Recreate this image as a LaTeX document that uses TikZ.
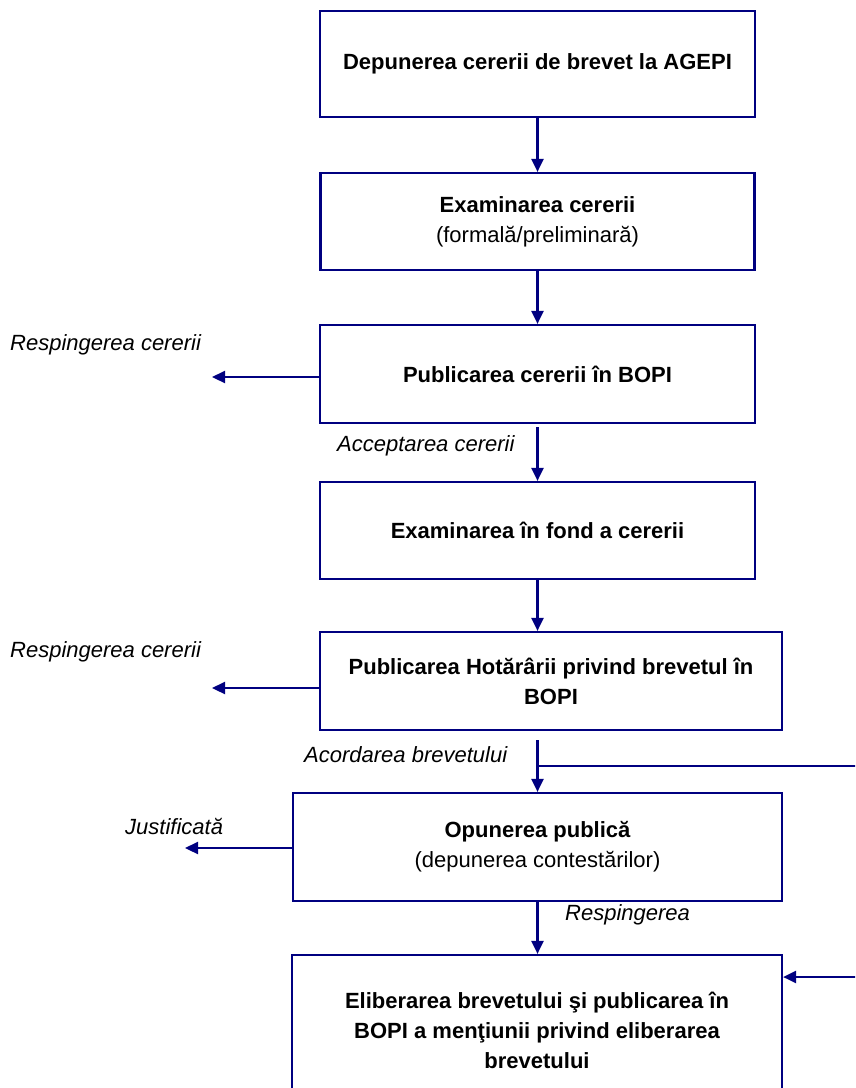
\documentclass[tikz,border=0pt]{standalone}
\usepackage{fontspec}
\setmainfont{Liberation Sans}
\usetikzlibrary{arrows.meta}
\definecolor{navy}{HTML}{000080}
\tikzset{
  box/.style={draw=navy, line width=2.2pt, fill=white, inner sep=0pt, align=center,
              font=\fontsize{22}{30}\selectfont\bfseries},
  arr/.style={draw=navy, line width=2.2pt, -{Triangle[length=13pt,width=12pt]}},
  ln/.style={draw=navy, line width=2.2pt},
  lab/.style={anchor=west, inner sep=0pt, font=\fontsize{22}{30}\selectfont\itshape},
  sub/.style={font=\fontsize{22}{30}\selectfont\mdseries}
}
\begin{document}
\begin{tikzpicture}[x=1pt,y=-1pt]
\clip (0,0) rectangle (855,1088);
\fill[white] (0,0) rectangle (855,1088);

\node[box, minimum width=435pt, minimum height=106pt] (b1) at (537.5,64) {Depunerea cererii de brevet la AGEPI};
\node[box, minimum width=434pt, minimum height=97pt] (b2) at (537.5,221.5) {Examinarea cererii\\{\mdseries (formală/preliminară)}};
\node[box, minimum width=435pt, minimum height=98pt] (b3) at (537.5,374) {Publicarea cererii în BOPI};
\node[box, minimum width=435pt, minimum height=97pt] (b4) at (537.5,530.5) {Examinarea în fond a cererii};
\node[box, minimum width=462pt, minimum height=98pt] (b5) at (551,681) {Publicarea Hotărârii privind brevetul în\\BOPI};
\node[box, minimum width=489pt, minimum height=108pt] (b6) at (537.5,847) {Opunerea publică\\{\mdseries (depunerea contestărilor)}};
\node[box, minimum width=490pt, minimum height=150pt, text depth=0pt] (b7) at (537,1030) {Eliberarea brevetului şi publicarea în\\BOPI a menţiunii privind eliberarea\\brevetului};

% vertical flow
\draw[arr] (b1.south) -- (b2.north);
\draw[arr] (b2.south) -- (b3.north);
\coordinate (a3) at (537.5,427);
\draw[arr] (a3) -- (b4.north);
\draw[arr] (b4.south) -- (b5.north -| b4.south);
\coordinate (a5) at (537.5,740);
\draw[arr] (a5) -- (b6.north);
\draw[arr] (b6.south) -- (b7.north -| b6.south);

% right side lines
\coordinate (r1) at (856,766);
\draw[ln] (a5 |- r1) -- (r1);
\coordinate (r2) at (856,977);
\draw[arr] (r2) -- (b7.east |- r2);

% left arrows
\coordinate (l3) at (212,377);
\draw[arr] (b3.west |- l3) -- (l3);
\coordinate (l5) at (212,688);
\draw[arr] (b5.west |- l5) -- (l5);
\coordinate (l6) at (185,848);
\draw[arr] (b6.west |- l6) -- (l6);

% labels
\node[lab] (t1) at (10,345) {Respingerea cererii};
\node[lab] (t2) at (10,652) {Respingerea cererii};
\node[lab] (t3) at (125,826) {Justificată};
\node[lab] (t4) at (337,446) {Acceptarea cererii};
\node[lab] (t5) at (304,755) {Acordarea brevetului};
\node[lab] (t6) at (565,915) {Respingerea};
\end{tikzpicture}
\end{document}
